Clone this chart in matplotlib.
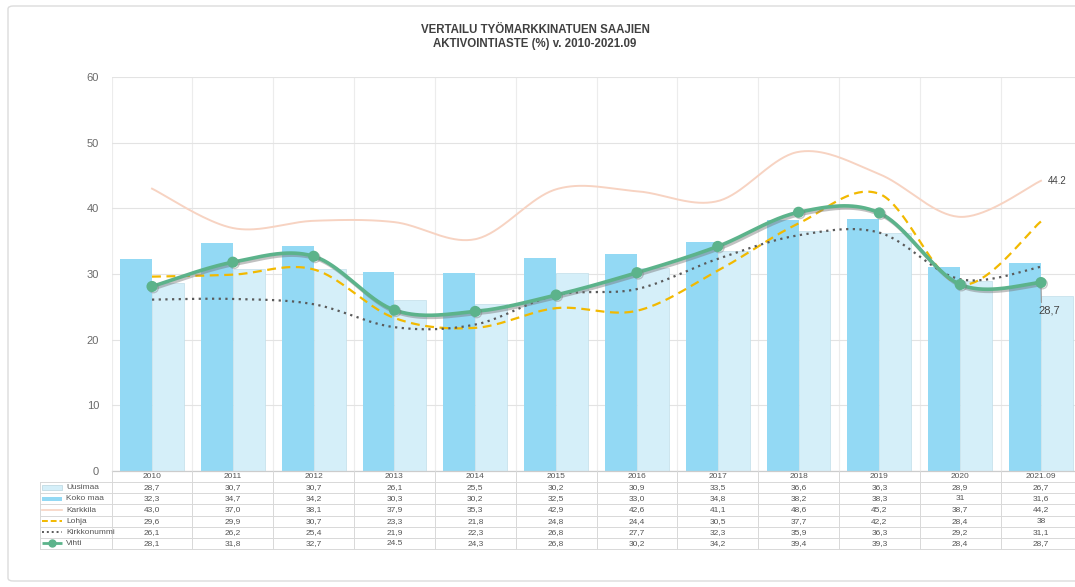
import numpy as np
import matplotlib
matplotlib.use("Agg")
import matplotlib.pyplot as plt
import matplotlib.patheffects as pe
from matplotlib.patches import Rectangle, FancyBboxPatch

plt.rcParams['font.family'] = ['Liberation Sans', 'DejaVu Sans']

categories = ["2010", "2011", "2012", "2013", "2014", "2015", "2016",
              "2017", "2018", "2019", "2020", "2021.09"]
uusimaa_txt = ["28,7", "30,7", "30,7", "26,1", "25,5", "30,2", "30,9", "33,5", "36,6", "36,3", "28,9", "26,7"]
kokomaa_txt = ["32,3", "34,7", "34,2", "30,3", "30,2", "32,5", "33,0", "34,8", "38,2", "38,3", "31", "31,6"]
karkkila_txt = ["43,0", "37,0", "38,1", "37,9", "35,3", "42,9", "42,6", "41,1", "48,6", "45,2", "38,7", "44,2"]
lohja_txt = ["29,6", "29,9", "30,7", "23,3", "21,8", "24,8", "24,4", "30,5", "37,7", "42,2", "28,4", "38"]
kirkkonummi_txt = ["26,1", "26,2", "25,4", "21,9", "22,3", "26,8", "27,7", "32,3", "35,9", "36,3", "29,2", "31,1"]
vihti_txt = ["28,1", "31,8", "32,7", "24.5", "24,3", "26,8", "30,2", "34,2", "39,4", "39,3", "28,4", "28,7"]

series_names = ["Uusimaa", "Koko maa", "Karkkila", "Lohja", "Kirkkonummi", "Vihti"]
title = "VERTAILU TYÖMARKKINATUEN SAAJIEN\nAKTIVOINTIASTE (%) v. 2010-2021.09"


def num(lst):
    return np.array([float(s.replace(',', '.')) for s in lst])


uusimaa = num(uusimaa_txt)
kokomaa = num(kokomaa_txt)
karkkila = num(karkkila_txt)
lohja = num(lohja_txt)
kirkkonummi = num(kirkkonummi_txt)
vihti = num(vihti_txt)


def smooth(x, y, n=40):
    pts = np.column_stack([x, y]).astype(float)
    P = np.vstack([pts[0], pts, pts[-1]])
    out = []
    t = np.linspace(0, 1, n)[:, None]
    for i in range(1, len(P) - 2):
        p0, p1, p2, p3 = P[i - 1], P[i], P[i + 1], P[i + 2]
        c1 = p1 + (p2 - p0) / 6.0
        c2 = p2 - (p3 - p1) / 6.0
        seg = (1 - t) ** 3 * p1 + 3 * (1 - t) ** 2 * t * c1 + 3 * (1 - t) * t ** 2 * c2 + t ** 3 * p2
        out.append(seg if i == 1 else seg[1:])
    s = np.vstack(out)
    return s[:, 0], s[:, 1]


W, H = 1075, 587
fig = plt.figure(figsize=(W / 100, H / 100), dpi=100)

# outer frame
fig.patches.append(FancyBboxPatch((8 / W, 6 / H), 1.2, 1 - 12 / H,
                                  boxstyle="round,pad=0,rounding_size=0.005",
                                  transform=fig.transFigure, facecolor='none',
                                  edgecolor='#dcdcdc', lw=1.0))

x0px, x1px = 111.6, 1081.4
ytop, ybot = 77, 471
ax = fig.add_axes([x0px / W, 1 - ybot / H, (x1px - x0px) / W, (ybot - ytop) / H])
x = np.arange(len(categories))
ax.set_xlim(-0.5, len(categories) - 0.5)
ax.set_ylim(0, 60)
for sp in ax.spines.values():
    sp.set_visible(False)
ax.set_yticks(np.arange(0, 61, 10))
ax.tick_params(axis='y', length=0, labelsize=8, labelcolor='#6a6a6a', pad=9)
ax.set_xticks([])
ax.grid(axis='y', color='#e3e3e3', lw=0.8)
ax.set_axisbelow(True)
for b in np.arange(-0.5, len(categories), 1):
    ax.axvline(b, color='#ececec', lw=0.8, zorder=0)

bw = 0.395
ax.bar(x - bw / 2, kokomaa, width=bw, color='#93d9f4', edgecolor='none', zorder=2)
ax.bar(x + bw / 2, uusimaa, width=bw, color='#d5eff9', edgecolor='#c2dfe9', lw=0.5, zorder=2)

sx, sy = smooth(x, karkkila)
ax.plot(sx, sy, color='#f7d3c2', lw=1.4, zorder=3)
sx, sy = smooth(x, lohja)
ax.plot(sx, sy, color='#f2b900', lw=1.6, ls=(0, (4, 2.5)), zorder=3)
sx, sy = smooth(x, kirkkonummi)
ax.plot(sx, sy, color='#5a5a5a', lw=1.6, ls=(0, (1, 2)), zorder=3)
sx, sy = smooth(x, vihti)
shadow = [pe.SimpleLineShadow(offset=(1.2, -1.5), shadow_color='#777777', alpha=0.45), pe.Normal()]
ax.plot(sx, sy, color='#5cb38b', lw=2.6, zorder=4, path_effects=shadow, solid_capstyle='round')
ax.plot(x, vihti, 'o', color='#5cb38b', ms=7, zorder=5,
        path_effects=[pe.SimpleLineShadow(offset=(1, -1), shadow_color='#777777', alpha=0.4), pe.Normal()])

# data labels
ax.annotate(karkkila_txt[-1].replace(',', '.'), (x[-1], karkkila[-1]), xytext=(5, 0),
            textcoords='offset points', fontsize=7, color='#444444', va='center', ha='left')
ax.annotate(vihti_txt[-1], (x[-1], vihti[-1]), xytext=(-2, -20),
            textcoords='offset points', fontsize=8, color='#444444', va='center', ha='left',
            arrowprops=dict(arrowstyle='-', color='#999999', lw=0.8, shrinkA=0, shrinkB=0,
                            relpos=(0.15, 1.0)))

fig.text(535 / W, 1 - 37 / H, title, ha='center', va='center', fontsize=8.3, fontweight='bold',
         color='#404040', linespacing=1.3)

# data table
tx0 = 40
axt = fig.add_axes([tx0 / W, 1 - 549 / H, (x1px - tx0) / W, (549 - 471) / H])
lab_left = -0.5 - (x0px - tx0) / 80.8
axt.set_xlim(lab_left, len(categories) - 0.5)
axt.set_ylim(7, 0)
axt.axis('off')
gc = '#d8d8d8'
axt.plot([-0.5, len(categories) - 0.5], [0, 0], color='#cccccc', lw=0.9, clip_on=False)
for r in range(1, 8):
    axt.plot([lab_left, len(categories) - 0.5], [r, r], color=gc, lw=0.7, clip_on=False)
axt.plot([lab_left, lab_left], [1, 7], color=gc, lw=0.7, clip_on=False)
for b in np.arange(-0.5, len(categories), 1):
    axt.plot([b, b], [0, 7], color=gc, lw=0.7, clip_on=False)

tfs = 6.0
tcol = '#555555'
for i, c in enumerate(categories):
    axt.text(x[i], 0.5, c, ha='center', va='center', fontsize=tfs, color=tcol)
rows = [uusimaa_txt, kokomaa_txt, karkkila_txt, lohja_txt, kirkkonummi_txt, vihti_txt]
for r, vals in enumerate(rows):
    for i, v in enumerate(vals):
        axt.text(x[i], r + 1.5, v, ha='center', va='center', fontsize=tfs, color=tcol)

px = 1 / 80.8
s0, s1 = lab_left + 2 * px, lab_left + 22 * px
tx = lab_left + 26 * px
for r, name in enumerate(series_names):
    yc = r + 1.5
    axt.text(tx, yc, name, ha='left', va='center', fontsize=tfs, color=tcol)
axt.add_patch(Rectangle((s0, 1.5 - 0.25), s1 - s0, 0.5, facecolor='#d5eff9', edgecolor='#b9d5df', lw=0.5))
axt.add_patch(Rectangle((s0, 2.5 - 0.17), s1 - s0, 0.34, facecolor='#93d9f4', edgecolor='none'))
axt.plot([s0, s1], [3.5, 3.5], color='#f7d3c2', lw=1.2)
axt.plot([s0, s1], [4.5, 4.5], color='#f2b900', lw=1.4, ls=(0, (3, 1.5)))
axt.plot([s0, s1], [5.5, 5.5], color='#5a5a5a', lw=1.4, ls=(0, (1, 1.5)))
axt.plot([s0, s1], [6.5, 6.5], color='#5cb38b', lw=2.0, solid_capstyle='butt')
axt.plot([(s0 + s1) / 2], [6.5], 'o', color='#5cb38b', ms=5)

fig.savefig('out.png', dpi=100)
